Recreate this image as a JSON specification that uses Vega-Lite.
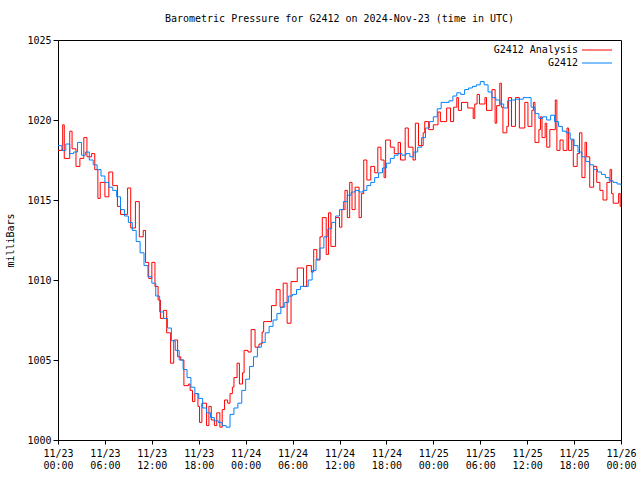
{
  "$schema": "https://vega.github.io/schema/vega-lite/v6.json",
  "width": 563,
  "height": 400,
  "autosize": "none",
  "padding": {"left": 58, "top": 40, "right": 19, "bottom": 40},
  "background": "white",
  "config": {
    "view": {"stroke": "black", "strokeWidth": 1},
    "font": "DejaVu Sans Mono"
  },
  "title": {
    "text": "Barometric Pressure for G2412 on 2024-Nov-23 (time in UTC)",
    "font": "DejaVu Sans Mono",
    "fontSize": 10,
    "fontWeight": "normal",
    "color": "black",
    "anchor": "middle",
    "offset": 11
  },
  "datasets": {
    "analysis": [
      {"t": "2024-11-23T00:00Z", "p": 1018.1},
      {"t": "2024-11-23T00:36Z", "p": 1019.7},
      {"t": "2024-11-23T00:48Z", "p": 1017.6},
      {"t": "2024-11-23T01:30Z", "p": 1019.3},
      {"t": "2024-11-23T01:48Z", "p": 1018.2},
      {"t": "2024-11-23T02:18Z", "p": 1017.1},
      {"t": "2024-11-23T02:48Z", "p": 1017.6},
      {"t": "2024-11-23T03:18Z", "p": 1018.9},
      {"t": "2024-11-23T03:42Z", "p": 1017.7},
      {"t": "2024-11-23T04:18Z", "p": 1017.9},
      {"t": "2024-11-23T04:42Z", "p": 1016.9},
      {"t": "2024-11-23T05:06Z", "p": 1015.1},
      {"t": "2024-11-23T05:24Z", "p": 1016.1},
      {"t": "2024-11-23T06:00Z", "p": 1015.2},
      {"t": "2024-11-23T06:30Z", "p": 1016.75},
      {"t": "2024-11-23T07:00Z", "p": 1015.9},
      {"t": "2024-11-23T07:36Z", "p": 1014.6},
      {"t": "2024-11-23T08:00Z", "p": 1014.1},
      {"t": "2024-11-23T08:54Z", "p": 1015.75},
      {"t": "2024-11-23T09:18Z", "p": 1013.25},
      {"t": "2024-11-23T09:54Z", "p": 1014.9},
      {"t": "2024-11-23T10:24Z", "p": 1012.7},
      {"t": "2024-11-23T10:54Z", "p": 1013.1},
      {"t": "2024-11-23T11:12Z", "p": 1011.1},
      {"t": "2024-11-23T11:36Z", "p": 1010.1},
      {"t": "2024-11-23T12:00Z", "p": 1011.1},
      {"t": "2024-11-23T12:24Z", "p": 1009.6},
      {"t": "2024-11-23T12:48Z", "p": 1008.75},
      {"t": "2024-11-23T13:06Z", "p": 1007.6},
      {"t": "2024-11-23T13:30Z", "p": 1008.1},
      {"t": "2024-11-23T13:54Z", "p": 1006.7},
      {"t": "2024-11-23T14:24Z", "p": 1004.8},
      {"t": "2024-11-23T14:48Z", "p": 1006.25},
      {"t": "2024-11-23T15:18Z", "p": 1005.2},
      {"t": "2024-11-23T15:42Z", "p": 1005.0},
      {"t": "2024-11-23T16:06Z", "p": 1003.4},
      {"t": "2024-11-23T16:42Z", "p": 1003.5},
      {"t": "2024-11-23T16:54Z", "p": 1003.1},
      {"t": "2024-11-23T17:12Z", "p": 1002.4},
      {"t": "2024-11-23T17:30Z", "p": 1002.9},
      {"t": "2024-11-23T17:54Z", "p": 1002.1},
      {"t": "2024-11-23T18:06Z", "p": 1001.1},
      {"t": "2024-11-23T18:24Z", "p": 1002.3},
      {"t": "2024-11-23T19:00Z", "p": 1000.9},
      {"t": "2024-11-23T19:18Z", "p": 1002.1},
      {"t": "2024-11-23T19:36Z", "p": 1001.25},
      {"t": "2024-11-23T20:00Z", "p": 1000.9},
      {"t": "2024-11-23T20:18Z", "p": 1001.7},
      {"t": "2024-11-23T20:42Z", "p": 1000.8},
      {"t": "2024-11-23T21:00Z", "p": 1001.9},
      {"t": "2024-11-23T21:18Z", "p": 1002.5},
      {"t": "2024-11-23T21:42Z", "p": 1002.3},
      {"t": "2024-11-23T22:00Z", "p": 1002.9},
      {"t": "2024-11-23T22:18Z", "p": 1003.3},
      {"t": "2024-11-23T22:30Z", "p": 1003.9},
      {"t": "2024-11-23T22:54Z", "p": 1004.8},
      {"t": "2024-11-23T23:12Z", "p": 1003.5},
      {"t": "2024-11-23T23:36Z", "p": 1004.2},
      {"t": "2024-11-23T23:48Z", "p": 1005.6},
      {"t": "2024-11-24T00:18Z", "p": 1005.5},
      {"t": "2024-11-24T00:42Z", "p": 1006.9},
      {"t": "2024-11-24T01:12Z", "p": 1005.8},
      {"t": "2024-11-24T01:42Z", "p": 1006.0},
      {"t": "2024-11-24T02:06Z", "p": 1006.75},
      {"t": "2024-11-24T02:18Z", "p": 1007.4},
      {"t": "2024-11-24T02:42Z", "p": 1007.4},
      {"t": "2024-11-24T03:18Z", "p": 1008.4},
      {"t": "2024-11-24T03:54Z", "p": 1009.4},
      {"t": "2024-11-24T04:24Z", "p": 1008.3},
      {"t": "2024-11-24T04:48Z", "p": 1009.8},
      {"t": "2024-11-24T05:18Z", "p": 1007.3},
      {"t": "2024-11-24T05:48Z", "p": 1009.9},
      {"t": "2024-11-24T06:36Z", "p": 1010.75},
      {"t": "2024-11-24T07:24Z", "p": 1009.6},
      {"t": "2024-11-24T07:48Z", "p": 1010.9},
      {"t": "2024-11-24T08:24Z", "p": 1010.5},
      {"t": "2024-11-24T08:42Z", "p": 1011.9},
      {"t": "2024-11-24T09:06Z", "p": 1011.25},
      {"t": "2024-11-24T09:30Z", "p": 1012.7},
      {"t": "2024-11-24T09:48Z", "p": 1013.9},
      {"t": "2024-11-24T10:18Z", "p": 1011.6},
      {"t": "2024-11-24T10:36Z", "p": 1014.2},
      {"t": "2024-11-24T10:54Z", "p": 1012.1},
      {"t": "2024-11-24T11:30Z", "p": 1013.9},
      {"t": "2024-11-24T12:00Z", "p": 1013.3},
      {"t": "2024-11-24T12:18Z", "p": 1014.4},
      {"t": "2024-11-24T12:42Z", "p": 1015.6},
      {"t": "2024-11-24T13:00Z", "p": 1013.9},
      {"t": "2024-11-24T13:18Z", "p": 1016.1},
      {"t": "2024-11-24T13:36Z", "p": 1014.4},
      {"t": "2024-11-24T14:00Z", "p": 1015.8},
      {"t": "2024-11-24T14:30Z", "p": 1013.9},
      {"t": "2024-11-24T14:48Z", "p": 1015.4},
      {"t": "2024-11-24T15:06Z", "p": 1017.5},
      {"t": "2024-11-24T15:30Z", "p": 1016.25},
      {"t": "2024-11-24T16:00Z", "p": 1017.1},
      {"t": "2024-11-24T16:30Z", "p": 1016.7},
      {"t": "2024-11-24T16:54Z", "p": 1018.3},
      {"t": "2024-11-24T17:18Z", "p": 1017.5},
      {"t": "2024-11-24T17:42Z", "p": 1016.4},
      {"t": "2024-11-24T17:54Z", "p": 1018.75},
      {"t": "2024-11-24T18:30Z", "p": 1018.3},
      {"t": "2024-11-24T19:00Z", "p": 1017.9},
      {"t": "2024-11-24T19:30Z", "p": 1018.6},
      {"t": "2024-11-24T19:48Z", "p": 1017.5},
      {"t": "2024-11-24T20:24Z", "p": 1019.5},
      {"t": "2024-11-24T20:48Z", "p": 1018.3},
      {"t": "2024-11-24T21:24Z", "p": 1017.5},
      {"t": "2024-11-24T21:42Z", "p": 1019.8},
      {"t": "2024-11-24T22:06Z", "p": 1018.4},
      {"t": "2024-11-24T22:42Z", "p": 1019.2},
      {"t": "2024-11-24T22:54Z", "p": 1019.9},
      {"t": "2024-11-24T23:24Z", "p": 1019.4},
      {"t": "2024-11-25T00:00Z", "p": 1019.7},
      {"t": "2024-11-25T00:36Z", "p": 1020.5},
      {"t": "2024-11-25T00:54Z", "p": 1019.9},
      {"t": "2024-11-25T01:42Z", "p": 1020.75},
      {"t": "2024-11-25T02:12Z", "p": 1019.9},
      {"t": "2024-11-25T02:36Z", "p": 1020.8},
      {"t": "2024-11-25T03:00Z", "p": 1021.4},
      {"t": "2024-11-25T03:12Z", "p": 1020.6},
      {"t": "2024-11-25T03:36Z", "p": 1021.1},
      {"t": "2024-11-25T04:24Z", "p": 1020.75},
      {"t": "2024-11-25T05:06Z", "p": 1020.1},
      {"t": "2024-11-25T05:18Z", "p": 1021.0},
      {"t": "2024-11-25T05:36Z", "p": 1021.6},
      {"t": "2024-11-25T05:54Z", "p": 1021.0},
      {"t": "2024-11-25T06:36Z", "p": 1021.4},
      {"t": "2024-11-25T06:48Z", "p": 1020.6},
      {"t": "2024-11-25T07:30Z", "p": 1021.9},
      {"t": "2024-11-25T07:54Z", "p": 1019.8},
      {"t": "2024-11-25T08:06Z", "p": 1020.9},
      {"t": "2024-11-25T08:30Z", "p": 1022.3},
      {"t": "2024-11-25T08:42Z", "p": 1020.8},
      {"t": "2024-11-25T08:54Z", "p": 1019.2},
      {"t": "2024-11-25T09:24Z", "p": 1019.6},
      {"t": "2024-11-25T09:36Z", "p": 1021.4},
      {"t": "2024-11-25T10:00Z", "p": 1019.6},
      {"t": "2024-11-25T10:30Z", "p": 1021.4},
      {"t": "2024-11-25T11:00Z", "p": 1019.5},
      {"t": "2024-11-25T11:42Z", "p": 1021.1},
      {"t": "2024-11-25T12:06Z", "p": 1019.6},
      {"t": "2024-11-25T12:36Z", "p": 1020.6},
      {"t": "2024-11-25T12:48Z", "p": 1021.1},
      {"t": "2024-11-25T13:00Z", "p": 1018.6},
      {"t": "2024-11-25T13:30Z", "p": 1019.4},
      {"t": "2024-11-25T13:42Z", "p": 1020.2},
      {"t": "2024-11-25T13:54Z", "p": 1018.9},
      {"t": "2024-11-25T14:18Z", "p": 1019.8},
      {"t": "2024-11-25T14:30Z", "p": 1018.3},
      {"t": "2024-11-25T14:54Z", "p": 1019.4},
      {"t": "2024-11-25T15:36Z", "p": 1021.25},
      {"t": "2024-11-25T15:48Z", "p": 1018.1},
      {"t": "2024-11-25T16:12Z", "p": 1018.75},
      {"t": "2024-11-25T16:36Z", "p": 1018.1},
      {"t": "2024-11-25T17:06Z", "p": 1019.5},
      {"t": "2024-11-25T17:18Z", "p": 1018.1},
      {"t": "2024-11-25T17:42Z", "p": 1018.75},
      {"t": "2024-11-25T17:54Z", "p": 1017.1},
      {"t": "2024-11-25T18:24Z", "p": 1017.9},
      {"t": "2024-11-25T18:42Z", "p": 1019.2},
      {"t": "2024-11-25T19:00Z", "p": 1016.4},
      {"t": "2024-11-25T19:24Z", "p": 1018.6},
      {"t": "2024-11-25T19:36Z", "p": 1017.7},
      {"t": "2024-11-25T20:00Z", "p": 1015.8},
      {"t": "2024-11-25T20:30Z", "p": 1017.1},
      {"t": "2024-11-25T20:54Z", "p": 1016.1},
      {"t": "2024-11-25T21:18Z", "p": 1015.6},
      {"t": "2024-11-25T21:42Z", "p": 1015.0},
      {"t": "2024-11-25T22:12Z", "p": 1016.1},
      {"t": "2024-11-25T22:36Z", "p": 1016.9},
      {"t": "2024-11-25T22:48Z", "p": 1015.4},
      {"t": "2024-11-25T23:00Z", "p": 1014.8},
      {"t": "2024-11-25T23:42Z", "p": 1015.4},
      {"t": "2024-11-25T23:54Z", "p": 1014.6},
      {"t": "2024-11-26T00:00Z", "p": 1014.6}
    ],
    "station": [
      {"t": "2024-11-23T00:00Z", "p": 1018.4},
      {"t": "2024-11-23T00:30Z", "p": 1018.1},
      {"t": "2024-11-23T01:00Z", "p": 1018.5},
      {"t": "2024-11-23T01:30Z", "p": 1017.9},
      {"t": "2024-11-23T02:00Z", "p": 1018.0},
      {"t": "2024-11-23T02:30Z", "p": 1018.6},
      {"t": "2024-11-23T03:00Z", "p": 1017.8},
      {"t": "2024-11-23T03:30Z", "p": 1018.0},
      {"t": "2024-11-23T04:00Z", "p": 1017.5},
      {"t": "2024-11-23T04:30Z", "p": 1017.2},
      {"t": "2024-11-23T05:00Z", "p": 1016.9},
      {"t": "2024-11-23T05:30Z", "p": 1016.5},
      {"t": "2024-11-23T06:00Z", "p": 1016.1},
      {"t": "2024-11-23T06:30Z", "p": 1015.8},
      {"t": "2024-11-23T07:00Z", "p": 1015.6},
      {"t": "2024-11-23T07:30Z", "p": 1015.2},
      {"t": "2024-11-23T08:00Z", "p": 1014.4},
      {"t": "2024-11-23T08:30Z", "p": 1014.0},
      {"t": "2024-11-23T09:00Z", "p": 1013.6},
      {"t": "2024-11-23T09:30Z", "p": 1013.1},
      {"t": "2024-11-23T10:00Z", "p": 1012.4},
      {"t": "2024-11-23T10:30Z", "p": 1011.7},
      {"t": "2024-11-23T11:00Z", "p": 1010.9},
      {"t": "2024-11-23T11:30Z", "p": 1010.2},
      {"t": "2024-11-23T12:00Z", "p": 1009.8},
      {"t": "2024-11-23T12:30Z", "p": 1009.0},
      {"t": "2024-11-23T13:00Z", "p": 1008.0},
      {"t": "2024-11-23T13:30Z", "p": 1007.6},
      {"t": "2024-11-23T14:00Z", "p": 1007.0},
      {"t": "2024-11-23T14:30Z", "p": 1006.2},
      {"t": "2024-11-23T15:00Z", "p": 1005.6},
      {"t": "2024-11-23T15:30Z", "p": 1005.0},
      {"t": "2024-11-23T16:00Z", "p": 1004.4},
      {"t": "2024-11-23T16:30Z", "p": 1003.9},
      {"t": "2024-11-23T17:00Z", "p": 1003.3},
      {"t": "2024-11-23T17:30Z", "p": 1002.9},
      {"t": "2024-11-23T18:00Z", "p": 1002.6},
      {"t": "2024-11-23T18:30Z", "p": 1002.0},
      {"t": "2024-11-23T19:00Z", "p": 1001.7},
      {"t": "2024-11-23T19:30Z", "p": 1001.4},
      {"t": "2024-11-23T20:00Z", "p": 1001.2},
      {"t": "2024-11-23T20:30Z", "p": 1001.1},
      {"t": "2024-11-23T21:00Z", "p": 1000.9},
      {"t": "2024-11-23T21:30Z", "p": 1000.8},
      {"t": "2024-11-23T22:00Z", "p": 1001.6},
      {"t": "2024-11-23T22:30Z", "p": 1002.0},
      {"t": "2024-11-23T23:00Z", "p": 1002.3},
      {"t": "2024-11-23T23:30Z", "p": 1003.1},
      {"t": "2024-11-24T00:00Z", "p": 1003.8},
      {"t": "2024-11-24T00:30Z", "p": 1004.6},
      {"t": "2024-11-24T01:00Z", "p": 1005.2},
      {"t": "2024-11-24T01:30Z", "p": 1005.8},
      {"t": "2024-11-24T02:00Z", "p": 1006.1},
      {"t": "2024-11-24T02:30Z", "p": 1006.7},
      {"t": "2024-11-24T03:00Z", "p": 1007.1},
      {"t": "2024-11-24T03:30Z", "p": 1007.5},
      {"t": "2024-11-24T04:00Z", "p": 1007.9},
      {"t": "2024-11-24T04:30Z", "p": 1008.3},
      {"t": "2024-11-24T05:00Z", "p": 1008.6},
      {"t": "2024-11-24T05:30Z", "p": 1009.0},
      {"t": "2024-11-24T06:00Z", "p": 1009.1},
      {"t": "2024-11-24T06:30Z", "p": 1009.4},
      {"t": "2024-11-24T07:00Z", "p": 1009.6},
      {"t": "2024-11-24T07:30Z", "p": 1009.6},
      {"t": "2024-11-24T08:00Z", "p": 1010.0},
      {"t": "2024-11-24T08:30Z", "p": 1010.6},
      {"t": "2024-11-24T09:00Z", "p": 1011.3},
      {"t": "2024-11-24T09:30Z", "p": 1012.0},
      {"t": "2024-11-24T10:00Z", "p": 1012.7},
      {"t": "2024-11-24T10:30Z", "p": 1013.2},
      {"t": "2024-11-24T11:00Z", "p": 1013.6},
      {"t": "2024-11-24T11:30Z", "p": 1014.0},
      {"t": "2024-11-24T12:00Z", "p": 1014.4},
      {"t": "2024-11-24T12:30Z", "p": 1014.9},
      {"t": "2024-11-24T13:00Z", "p": 1015.3},
      {"t": "2024-11-24T13:30Z", "p": 1015.5},
      {"t": "2024-11-24T14:00Z", "p": 1015.6},
      {"t": "2024-11-24T14:30Z", "p": 1015.5},
      {"t": "2024-11-24T15:00Z", "p": 1015.6},
      {"t": "2024-11-24T15:30Z", "p": 1015.9},
      {"t": "2024-11-24T16:00Z", "p": 1016.1},
      {"t": "2024-11-24T16:30Z", "p": 1016.4},
      {"t": "2024-11-24T17:00Z", "p": 1016.7},
      {"t": "2024-11-24T17:30Z", "p": 1017.0},
      {"t": "2024-11-24T18:00Z", "p": 1017.3},
      {"t": "2024-11-24T18:30Z", "p": 1017.6},
      {"t": "2024-11-24T19:00Z", "p": 1017.8},
      {"t": "2024-11-24T19:30Z", "p": 1017.9},
      {"t": "2024-11-24T20:00Z", "p": 1017.8},
      {"t": "2024-11-24T20:30Z", "p": 1017.9},
      {"t": "2024-11-24T21:00Z", "p": 1017.7},
      {"t": "2024-11-24T21:30Z", "p": 1018.0},
      {"t": "2024-11-24T22:00Z", "p": 1018.3},
      {"t": "2024-11-24T22:30Z", "p": 1018.9},
      {"t": "2024-11-24T23:00Z", "p": 1019.5},
      {"t": "2024-11-24T23:30Z", "p": 1019.9},
      {"t": "2024-11-25T00:00Z", "p": 1020.2},
      {"t": "2024-11-25T00:30Z", "p": 1020.7},
      {"t": "2024-11-25T01:00Z", "p": 1021.1},
      {"t": "2024-11-25T01:30Z", "p": 1021.1},
      {"t": "2024-11-25T02:00Z", "p": 1021.2},
      {"t": "2024-11-25T02:30Z", "p": 1021.5},
      {"t": "2024-11-25T03:00Z", "p": 1021.7},
      {"t": "2024-11-25T03:30Z", "p": 1021.6},
      {"t": "2024-11-25T04:00Z", "p": 1021.9},
      {"t": "2024-11-25T04:30Z", "p": 1022.0},
      {"t": "2024-11-25T05:00Z", "p": 1022.1},
      {"t": "2024-11-25T05:30Z", "p": 1022.2},
      {"t": "2024-11-25T06:00Z", "p": 1022.4},
      {"t": "2024-11-25T06:30Z", "p": 1022.2},
      {"t": "2024-11-25T07:00Z", "p": 1021.75},
      {"t": "2024-11-25T07:30Z", "p": 1021.4},
      {"t": "2024-11-25T08:00Z", "p": 1021.25},
      {"t": "2024-11-25T08:30Z", "p": 1021.0},
      {"t": "2024-11-25T09:00Z", "p": 1020.75},
      {"t": "2024-11-25T09:30Z", "p": 1021.2},
      {"t": "2024-11-25T10:00Z", "p": 1021.25},
      {"t": "2024-11-25T10:30Z", "p": 1021.3},
      {"t": "2024-11-25T11:00Z", "p": 1021.3},
      {"t": "2024-11-25T11:30Z", "p": 1021.4},
      {"t": "2024-11-25T12:00Z", "p": 1021.4},
      {"t": "2024-11-25T12:30Z", "p": 1020.8},
      {"t": "2024-11-25T13:00Z", "p": 1020.4},
      {"t": "2024-11-25T13:30Z", "p": 1020.1},
      {"t": "2024-11-25T14:00Z", "p": 1020.2},
      {"t": "2024-11-25T14:30Z", "p": 1020.0},
      {"t": "2024-11-25T15:00Z", "p": 1020.3},
      {"t": "2024-11-25T15:30Z", "p": 1019.9},
      {"t": "2024-11-25T16:00Z", "p": 1019.6},
      {"t": "2024-11-25T16:30Z", "p": 1019.3},
      {"t": "2024-11-25T17:00Z", "p": 1019.2},
      {"t": "2024-11-25T17:30Z", "p": 1018.8},
      {"t": "2024-11-25T18:00Z", "p": 1018.4},
      {"t": "2024-11-25T18:30Z", "p": 1018.0},
      {"t": "2024-11-25T19:00Z", "p": 1017.7},
      {"t": "2024-11-25T19:30Z", "p": 1017.4},
      {"t": "2024-11-25T20:00Z", "p": 1017.2},
      {"t": "2024-11-25T20:30Z", "p": 1016.9},
      {"t": "2024-11-25T21:00Z", "p": 1016.75},
      {"t": "2024-11-25T21:30Z", "p": 1016.6},
      {"t": "2024-11-25T22:00Z", "p": 1016.4},
      {"t": "2024-11-25T22:30Z", "p": 1016.2},
      {"t": "2024-11-25T23:00Z", "p": 1016.1},
      {"t": "2024-11-25T23:30Z", "p": 1016.0},
      {"t": "2024-11-26T00:00Z", "p": 1015.9}
    ]
  },
  "layer": [
    {
      "data": {"name": "analysis"},
      "mark": {"type": "line", "interpolate": "step-after", "strokeWidth": 1},
      "encoding": {
        "x": {
          "field": "t", "type": "temporal",
          "axis": {
            "title": null, "grid": false,
            "tickCount": 12,
            "labelExpr": "[utcFormat(datum.value, '%m/%d'), utcFormat(datum.value, '%H:%M')]",
            "tickSize": 4,
            "tickColor": "black", "domainColor": "black",
            "labelFont": "DejaVu Sans Mono", "labelFontSize": 10, "labelColor": "black",
            "labelLineHeight": 12, "labelPadding": 4, "labelOverlap": false, "labelFlush": false, "labelAngle": 0
          }
        },
        "y": {
          "field": "p", "type": "quantitative",
          "scale": {"domain": [1000, 1025], "nice": false, "zero": false},
          "axis": {
            "values": [1000, 1005, 1010, 1015, 1020, 1025], "grid": false, "format": "d",
            "tickSize": 5, "tickColor": "black", "domainColor": "black",
            "labelFont": "DejaVu Sans Mono", "labelFontSize": 10, "labelColor": "black", "labelPadding": 2,
            "title": "milliBars", "titleFont": "DejaVu Sans Mono", "titleFontSize": 10, "titleFontWeight": "normal", "titleColor": "black", "titlePadding": 11
          }
        },
        "color": {
          "datum": "G2412 Analysis",
          "scale": {"domain": ["G2412 Analysis", "G2412"], "range": ["#ff0000", "#0080ff"]},
          "legend": {
            "orient": "none", "legendX": 534, "legendY": 5, "title": null, "padding": 0,
            "symbolType": "M-5,0H5", "symbolSize": 36, "symbolStrokeWidth": 1,
            "labelAlign": "right", "labelOffset": -24,
            "labelFont": "DejaVu Sans Mono", "labelFontSize": 10, "labelColor": "black",
            "rowPadding": 3
          }
        }
      }
    },
    {
      "data": {"name": "station"},
      "mark": {"type": "line", "interpolate": "step-after", "strokeWidth": 1},
      "encoding": {
        "x": {"field": "t", "type": "temporal"},
        "y": {"field": "p", "type": "quantitative"},
        "color": {"datum": "G2412"}
      }
    }
  ]
}
